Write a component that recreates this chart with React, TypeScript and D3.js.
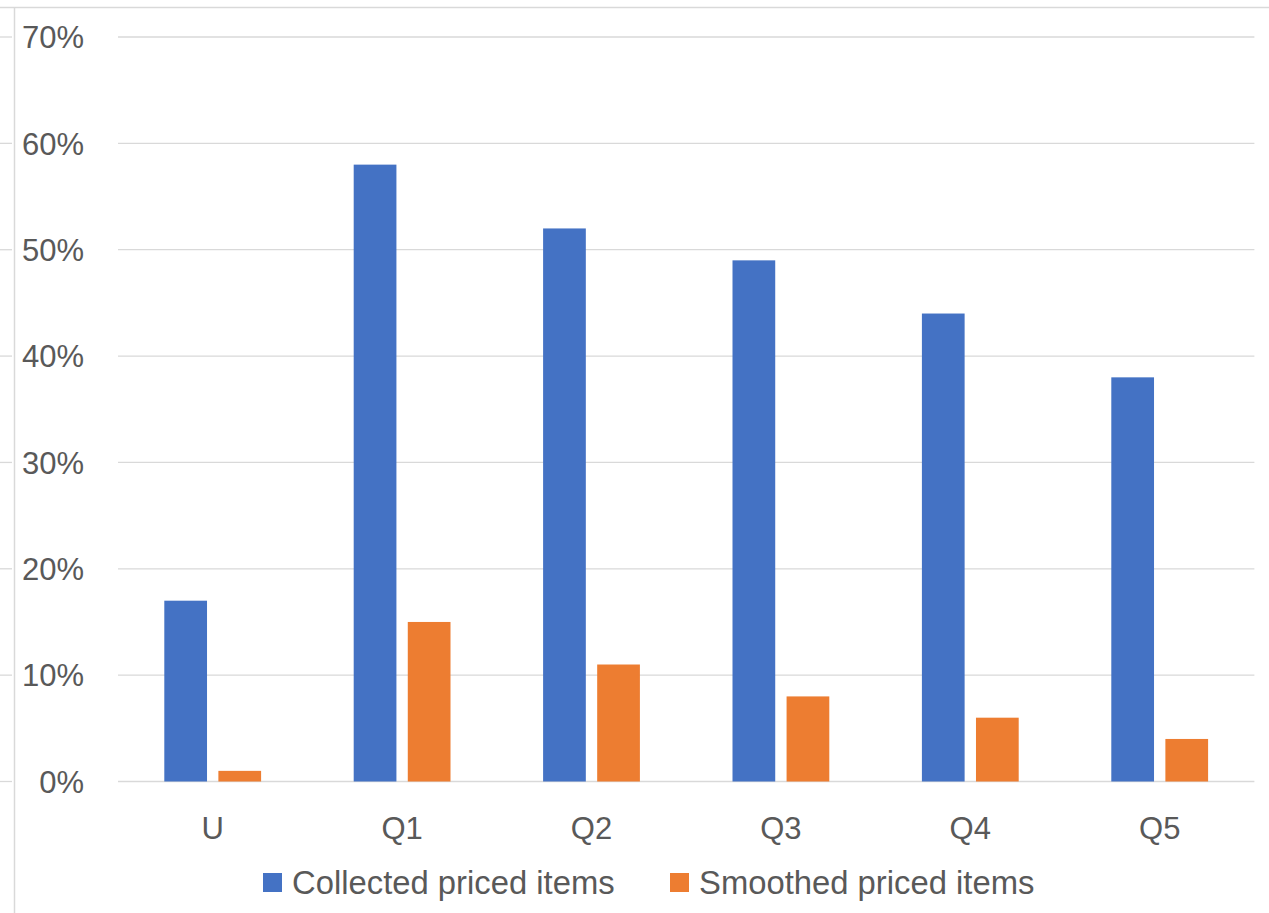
import React from "react";
import * as d3 from "d3";

const categories = ["U", "Q1", "Q2", "Q3", "Q4", "Q5"];
const seriesNames = ["Collected priced items", "Smoothed priced items"];
const collected = [17, 58, 52, 49, 44, 38];
const smoothed = [1, 15, 11, 8, 6, 4];
const yTicks = [0, 10, 20, 30, 40, 50, 60, 70];
const colors = ["#4472C4", "#ED7D31"];

const W = 1269;
const H = 913;
const FONT = "'Liberation Sans', Arial, sans-serif";
const TEXT = "#595959";
const GRID = "#d9d9d9";

export default function App() {
  const x0 = d3.scaleBand<string>().domain(categories).range([118, 1254.4]).padding(0);
  const bw = x0.bandwidth();
  const groupHalf = 48.4;
  const x1 = d3
    .scaleBand<string>()
    .domain(seriesNames)
    .range([bw / 2 - groupHalf, bw / 2 + groupHalf])
    .paddingInner(0.21)
    .paddingOuter(0);
  const y = d3.scaleLinear().domain([0, 70]).range([781.5, 37]);
  const series = [collected, smoothed];

  return (
    <svg
      width={W}
      height={H}
      style={{ position: "fixed", left: 0, top: 0, background: "#fff" }}
      fontFamily={FONT}
    >
      <rect x={0} y={0} width={W} height={H} fill="#fff" />
      {/* frame lines */}
      <line x1={0} x2={W} y1={7.5} y2={7.5} stroke={GRID} strokeWidth={1.5} />
      <line x1={14.5} x2={14.5} y1={7.5} y2={H} stroke={GRID} strokeWidth={1.5} />
      {yTicks.map((t) => (
        <g key={t}>
          <line x1={0} x2={12} y1={y(t)} y2={y(t)} stroke={GRID} strokeWidth={1.3} />
          <line x1={118} x2={1254.4} y1={y(t)} y2={y(t)} stroke={GRID} strokeWidth={1.3} />
          <text
            x={84}
            y={y(t)}
            dy="0.36em"
            textAnchor="end"
            fontSize={31}
            fill={TEXT}
          >
            {t + "%"}
          </text>
        </g>
      ))}
      {categories.map((c, i) => (
        <g key={c} transform={`translate(${x0(c)},0)`}>
          {series.map((vals, s) => (
            <rect
              key={s}
              x={x1(seriesNames[s])}
              width={x1.bandwidth()}
              y={y(vals[i])}
              height={y(0) - y(vals[i])}
              fill={colors[s]}
            />
          ))}
          <text x={bw / 2} y={838.5} textAnchor="middle" fontSize={31} fill={TEXT}>
            {c}
          </text>
        </g>
      ))}
      {/* legend */}
      {seriesNames.map((n, s) => {
        const lx = s === 0 ? 263 : 670;
        return (
          <g key={n}>
            <rect x={lx} y={873} width={19} height={19} fill={colors[s]} />
            <text x={lx + 29} y={893.5} fontSize={32.8} fill={TEXT}>
              {n}
            </text>
          </g>
        );
      })}
    </svg>
  );
}
